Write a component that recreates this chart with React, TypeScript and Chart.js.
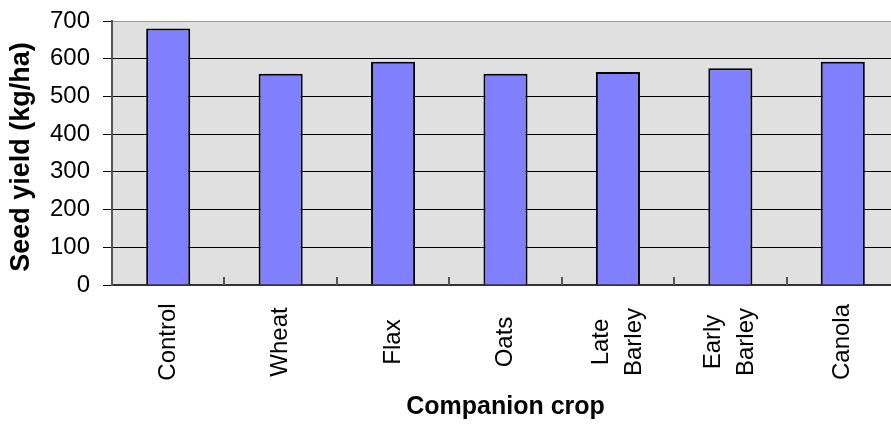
import React, { useEffect, useRef } from "react";
import { Chart, registerables } from "chart.js";

Chart.register(...registerables);

const categories: (string | string[])[] = [
  "Control",
  "Wheat",
  "Flax",
  "Oats",
  ["Late", "Barley"],
  ["Early", "Barley"],
  "Canola",
];
const seedYield: number[] = [680, 560, 592, 560, 565, 575, 592];
const yTicks: number[] = [0, 100, 200, 300, 400, 500, 600, 700];
const yTitle = "Seed yield (kg/ha)";
const xTitle = "Companion crop";

const FONT = "Arial, 'Liberation Sans', sans-serif";
const X_LABEL_SIZE = 24;
const X_LINE_GAP = 33;
const X_LABEL_CENTER_BELOW_AXIS = 57;

const plotBackground = {
  id: "plotBackground",
  beforeDraw(chart: any) {
    const { ctx, chartArea } = chart;
    ctx.save();
    ctx.fillStyle = "#e0e0e0";
    ctx.fillRect(chartArea.left, chartArea.top, chartArea.right - chartArea.left, chartArea.bottom - chartArea.top);
    ctx.restore();
  },
};

const innerTicks = {
  id: "innerTicks",
  afterDatasetsDraw(chart: any) {
    const { ctx, chartArea } = chart;
    const xs = chart.scales.x;
    ctx.save();
    ctx.strokeStyle = "#555";
    ctx.lineWidth = 2;
    for (let i = 0; i < categories.length - 1; i++) {
      const x = Math.round((xs.getPixelForValue(i) + xs.getPixelForValue(i + 1)) / 2);
      ctx.beginPath();
      ctx.moveTo(x, chartArea.bottom);
      ctx.lineTo(x, chartArea.bottom - 8);
      ctx.stroke();
    }
    ctx.restore();
  },
};

// Vertical, centre-aligned category labels (multi-line labels centred on the tick)
const categoryLabels = {
  id: "categoryLabels",
  afterDraw(chart: any) {
    const { ctx, chartArea } = chart;
    const xs = chart.scales.x;
    ctx.save();
    ctx.fillStyle = "#000";
    ctx.font = `${X_LABEL_SIZE}px ${FONT}`;
    ctx.textAlign = "center";
    ctx.textBaseline = "middle";
    categories.forEach((label, i) => {
      const lines = Array.isArray(label) ? label : [label];
      const x = xs.getPixelForValue(i);
      lines.forEach((line, j) => {
        const cx = x + (j - (lines.length - 1) / 2) * X_LINE_GAP;
        ctx.save();
        ctx.translate(cx, chartArea.bottom + X_LABEL_CENTER_BELOW_AXIS);
        ctx.rotate(-Math.PI / 2);
        ctx.fillText(line, 0, 0);
        ctx.restore();
      });
    });
    ctx.restore();
  },
};

// Y axis title, drawn slightly below the plot centre as in the reference
const yAxisTitle = {
  id: "yAxisTitle",
  afterDraw(chart: any) {
    const { ctx, chartArea } = chart;
    ctx.save();
    ctx.fillStyle = "#000";
    ctx.font = `bold 27px ${FONT}`;
    ctx.textAlign = "center";
    ctx.textBaseline = "middle";
    ctx.translate(22, (chartArea.top + chartArea.bottom) / 2 + 4);
    ctx.rotate(-Math.PI / 2);
    ctx.fillText(yTitle, 0, 0);
    ctx.restore();
  },
};

export default function App() {
  const ref = useRef<HTMLCanvasElement | null>(null);

  useEffect(() => {
    if (!ref.current) return;
    const chart = new Chart(ref.current, {
      type: "bar",
      data: {
        labels: categories.map((c) => (Array.isArray(c) ? c.join(" ") : c)),
        datasets: [
          {
            data: seedYield,
            backgroundColor: "#8080ff",
            borderColor: "#000000",
            borderWidth: 2,
            barPercentage: 0.392,
            categoryPercentage: 1,
          },
        ],
      },
      options: {
        responsive: false,
        animation: false,
        devicePixelRatio: 1,
        layout: { padding: { top: 21, left: 0, right: 0, bottom: 0 } },
        plugins: {
          legend: { display: false },
          tooltip: { enabled: false },
          title: { display: false },
        },
        scales: {
          x: {
            type: "category",
            offset: true,
            afterFit(scale: any) {
              scale.height = 139;
            },
            grid: { display: false },
            border: { display: true, color: "#333", width: 2 },
            ticks: { display: false },
            title: {
              display: true,
              text: xTitle,
              color: "#000",
              font: { family: FONT, size: 25, weight: "bold" },
              padding: { top: 0, bottom: 2 },
            },
          },
          y: {
            min: yTicks[0],
            max: yTicks[yTicks.length - 1],
            afterFit(scale: any) {
              scale.width = 112;
              scale.paddingTop = 0;
              scale.paddingBottom = 0;
            },
            afterBuildTicks(scale: any) {
              scale.ticks = yTicks.map((v) => ({ value: v }));
            },
            grid: {
              color: (ctx: any) => (ctx.tick && ctx.tick.value === 700 ? "#999" : "#000"),
              tickColor: "#000",
              lineWidth: 1,
              tickLength: 9,
            },
            border: { display: true, color: "#555", width: 2 },
            ticks: {
              padding: 13,
              color: "#000",
              font: { family: FONT, size: 24 },
            },
            title: { display: false },
          },
        },
      },
      plugins: [plotBackground, innerTicks, categoryLabels, yAxisTitle],
    });
    return () => chart.destroy();
  }, []);

  return (
    <div
      style={{
        position: "fixed",
        left: 0,
        top: 0,
        width: 891,
        height: 424,
        overflow: "hidden",
        background: "#fff",
      }}
    >
      <canvas ref={ref} width={899} height={424} style={{ display: "block", width: 899, height: 424 }} />
    </div>
  );
}
